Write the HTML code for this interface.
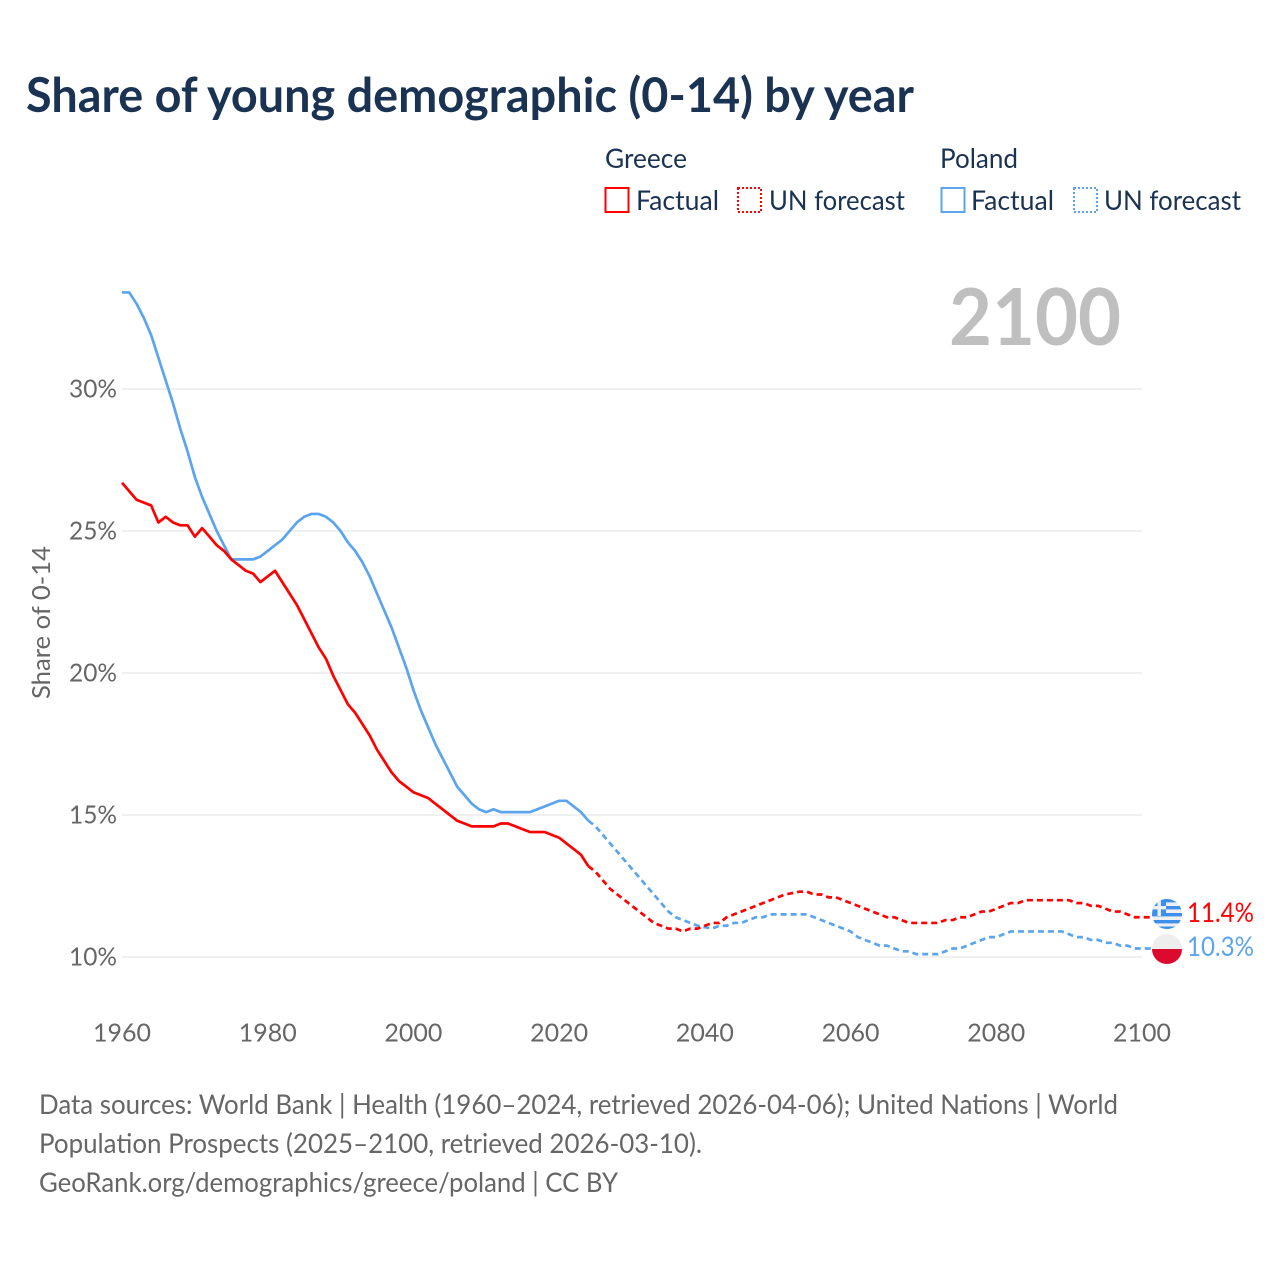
<!DOCTYPE html>
<html lang="en">
<head>
<meta charset="utf-8">
<title>Share of young demographic (0-14) by year</title>
<style>
html,body{margin:0;padding:0;background:#fff;width:1280px;height:1280px;overflow:hidden}
svg{display:block}
text{font-family:"Lato","Carlito","Liberation Sans",sans-serif}
</style>
</head>
<body>
<svg id="chart" xmlns="http://www.w3.org/2000/svg" width="1280" height="1280" viewBox="0 0 1280 1280">
  <rect width="1280" height="1280" fill="#ffffff"/>
  <text x="26" y="112" font-size="47.5" font-weight="700" fill="#1a3353" textLength="888" lengthAdjust="spacingAndGlyphs">Share of young demographic (0-14) by year</text>

  <g>
    <text x="605" y="168" font-size="27" fill="#1a3353" textLength="82" lengthAdjust="spacingAndGlyphs">Greece</text>
    <rect x="605.5" y="188" width="23" height="24" fill="none" stroke="#ff0000" stroke-width="2"/>
    <text x="636" y="210" font-size="27" fill="#1a3353" textLength="83" lengthAdjust="spacingAndGlyphs">Factual</text>
    <rect x="738" y="188" width="23" height="24" fill="none" stroke="#ff0000" stroke-width="2" stroke-dasharray="2 2"/>
    <text x="769" y="210" font-size="27" fill="#1a3353" textLength="136" lengthAdjust="spacingAndGlyphs">UN forecast</text>
    <text x="940" y="168" font-size="27" fill="#1a3353" textLength="78" lengthAdjust="spacingAndGlyphs">Poland</text>
    <rect x="941.5" y="188" width="23" height="24" fill="none" stroke="#5ba4ee" stroke-width="2"/>
    <text x="971" y="210" font-size="27" fill="#1a3353" textLength="83" lengthAdjust="spacingAndGlyphs">Factual</text>
    <rect x="1074" y="188" width="23" height="24" fill="none" stroke="#5ba4ee" stroke-width="2" stroke-dasharray="2 2"/>
    <text x="1104" y="210" font-size="27" fill="#1a3353" textLength="137" lengthAdjust="spacingAndGlyphs">UN forecast</text>
  </g>

  <text x="949" y="345" font-size="79" font-weight="700" fill="#bfbfbf" textLength="172" lengthAdjust="spacingAndGlyphs">2100</text>
  <text transform="translate(50,699) rotate(-90)" font-size="25" fill="#666666" textLength="153" lengthAdjust="spacingAndGlyphs">Share of 0-14</text>

  <g id="grid"></g>
  <g id="yticks"></g>
  <g id="xticks"></g>
  <g id="series"></g>

  <defs>
    <clipPath id="greece-clip"><circle cx="1167" cy="914" r="15"/></clipPath>
    <clipPath id="poland-clip"><circle cx="1167" cy="949" r="15"/></clipPath>
  </defs>
  <g clip-path="url(#greece-clip)">
    <rect x="1152" y="899" width="30" height="30" fill="#efefef"/>
    <rect x="1152" y="899" width="30" height="3.4" fill="#3d8fee"/>
    <rect x="1152" y="906" width="30" height="3.4" fill="#3d8fee"/>
    <rect x="1152" y="913" width="30" height="3.4" fill="#3d8fee"/>
    <rect x="1152" y="920" width="30" height="3.4" fill="#3d8fee"/>
    <rect x="1152" y="926.5" width="30" height="3" fill="#3d8fee"/>
    <rect x="1152" y="899" width="14" height="17" fill="#3d8fee"/>
    <rect x="1157.5" y="899" width="3.4" height="17" fill="#efefef"/>
    <rect x="1152" y="906" width="14" height="3.4" fill="#efefef"/>
  </g>
  <g clip-path="url(#poland-clip)">
    <rect x="1152" y="934" width="30" height="15" fill="#eeeeee"/>
    <rect x="1152" y="949" width="30" height="15" fill="#dc0a2d"/>
  </g>
  <text x="1187" y="922" font-size="27" fill="#ff0000" textLength="67" lengthAdjust="spacingAndGlyphs">11.4%</text>
  <text x="1187" y="956" font-size="27" fill="#5ba4ee" textLength="67" lengthAdjust="spacingAndGlyphs">10.3%</text>

  <g font-size="27" fill="#666666">
    <text x="39" y="1114" textLength="1079" lengthAdjust="spacingAndGlyphs">Data sources: World Bank | Health (1960–2024, retrieved 2026-04-06); United Nations | World</text>
    <text x="39" y="1153" textLength="663" lengthAdjust="spacingAndGlyphs">Population Prospects (2025–2100, retrieved 2026-03-10).</text>
    <text x="39" y="1192" textLength="579" lengthAdjust="spacingAndGlyphs">GeoRank.org/demographics/greece/poland | CC BY</text>
  </g>
</svg>
<script>
const xTickYears = [1960, 1980, 2000, 2020, 2040, 2060, 2080, 2100];
const yTickValues = [10, 15, 20, 25, 30];
const factualStartYear = 1960;
const forecastStartYear = 2024;
const greeceFactual = [26.7,26.4,26.1,26.0,25.9,25.3,25.5,25.3,25.2,25.2,24.8,25.1,24.8,24.5,24.3,24.0,23.8,23.6,23.5,23.2,23.4,23.6,23.2,22.8,22.4,21.9,21.4,20.9,20.5,19.9,19.4,18.9,18.6,18.2,17.8,17.3,16.9,16.5,16.2,16.0,15.8,15.7,15.6,15.4,15.2,15.0,14.8,14.7,14.6,14.6,14.6,14.6,14.7,14.7,14.6,14.5,14.4,14.4,14.4,14.3,14.2,14.0,13.8,13.6,13.2];
const greeceForecast = [13.2,13.0,12.7,12.4,12.2,12.0,11.8,11.6,11.4,11.2,11.1,11.0,11.0,10.9,11.0,11.0,11.1,11.2,11.2,11.4,11.5,11.6,11.7,11.8,11.9,12.0,12.1,12.2,12.25,12.3,12.3,12.2,12.2,12.1,12.1,12.0,11.9,11.8,11.7,11.6,11.5,11.4,11.4,11.3,11.2,11.2,11.2,11.2,11.2,11.3,11.3,11.4,11.4,11.5,11.6,11.6,11.7,11.8,11.9,11.9,12.0,12.0,12.0,12.0,12.0,12.0,12.0,11.9,11.9,11.8,11.8,11.7,11.6,11.6,11.5,11.4,11.4];
const polandFactual = [33.4,33.4,33.0,32.5,31.9,31.1,30.3,29.5,28.6,27.8,26.9,26.2,25.6,25.0,24.5,24.0,24.0,24.0,24.0,24.1,24.3,24.5,24.7,25.0,25.3,25.5,25.6,25.6,25.5,25.3,25.0,24.6,24.3,23.9,23.4,22.8,22.2,21.6,20.9,20.2,19.4,18.7,18.1,17.5,17.0,16.5,16.0,15.7,15.4,15.2,15.1,15.2,15.1,15.1,15.1,15.1,15.1,15.2,15.3,15.4,15.5,15.5,15.3,15.1,14.8];
const polandForecast = [14.8,14.6,14.3,14.0,13.7,13.4,13.1,12.8,12.5,12.2,11.9,11.6,11.4,11.3,11.2,11.1,11.05,11.0,11.1,11.1,11.2,11.2,11.3,11.4,11.4,11.5,11.5,11.5,11.5,11.5,11.5,11.4,11.3,11.2,11.1,11.0,10.9,10.7,10.6,10.5,10.4,10.4,10.3,10.2,10.2,10.1,10.1,10.1,10.1,10.2,10.3,10.3,10.4,10.5,10.6,10.7,10.7,10.8,10.9,10.9,10.9,10.9,10.9,10.9,10.9,10.9,10.8,10.7,10.7,10.6,10.6,10.5,10.5,10.4,10.4,10.3,10.3];

const SVG_NS = 'http://www.w3.org/2000/svg';
function xScale(year) { return 122 + (year - 1960) * (1020 / 140); }
function yScale(value) { return 957 - (value - 10) * 28.4; }
function linePath(values, startYear, extendToFlag) {
  let d = values.map(function (v, i) {
    return (i ? 'L' : 'M') + xScale(startYear + i).toFixed(2) + ' ' + yScale(v).toFixed(2);
  }).join(' ');
  if (extendToFlag) {
    d += ' L' + (xScale(startYear + values.length - 1) + 10).toFixed(2) + ' ' + yScale(values[values.length - 1]).toFixed(2);
  }
  return d;
}

const grid = document.getElementById('grid');
const yticks = document.getElementById('yticks');
const xticks = document.getElementById('xticks');
const series = document.getElementById('series');

yTickValues.forEach(function (v) {
  const line = document.createElementNS(SVG_NS, 'line');
  
  
  line.setAttribute('x1', 122);
  line.setAttribute('x2', 1142);
  line.setAttribute('y1', yScale(v));
  line.setAttribute('y2', yScale(v));
  line.setAttribute('stroke', '#ececec');
  line.setAttribute('stroke-width', 1.5);
  grid.appendChild(line);

  const label = document.createElementNS(SVG_NS, 'text');
  
  
  label.setAttribute('x', 69);
  label.setAttribute('y', yScale(v) + 8.5);
  label.setAttribute('font-size', 25);
  label.setAttribute('fill', '#666666');
  label.setAttribute('textLength', 48);
  label.setAttribute('lengthAdjust', 'spacingAndGlyphs');
  label.textContent = v + '%';
  yticks.appendChild(label);
});

xTickYears.forEach(function (y) {
  const label = document.createElementNS(SVG_NS, 'text');
  
  
  label.setAttribute('x', xScale(y) - 29);
  label.setAttribute('y', 1041.5);
  label.setAttribute('font-size', 25);
  label.setAttribute('fill', '#666666');
  label.setAttribute('textLength', 58);
  label.setAttribute('lengthAdjust', 'spacingAndGlyphs');
  label.textContent = y;
  xticks.appendChild(label);
});

function addLine(values, startYear, color, dashed, name) {
  const p = document.createElementNS(SVG_NS, 'path');
  
  
  p.setAttribute('d', linePath(values, startYear, dashed));
  p.setAttribute('fill', 'none');
  p.setAttribute('stroke', color);
  p.setAttribute('stroke-width', 2.7);
  p.setAttribute('stroke-linejoin', 'round');
  if (dashed) { p.setAttribute('stroke-dasharray', '6 4'); }
  series.appendChild(p);
}
addLine(polandFactual, factualStartYear, '#5ba4ee', false, 'line-poland-factual');
addLine(polandForecast, forecastStartYear, '#5ba4ee', true, 'line-poland-forecast');
addLine(greeceFactual, factualStartYear, '#ff0000', false, 'line-greece-factual');
addLine(greeceForecast, forecastStartYear, '#ff0000', true, 'line-greece-forecast');
</script>
</body>
</html>
